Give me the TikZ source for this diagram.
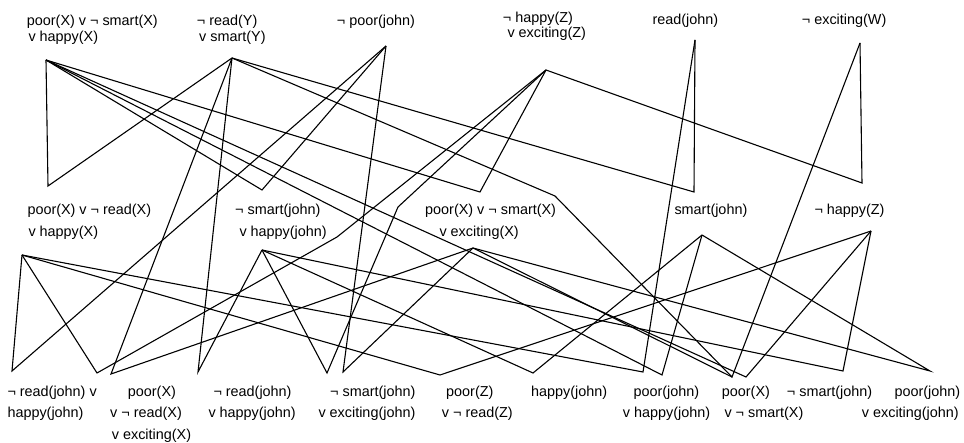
\documentclass[tikz,border=0pt]{standalone}
\usepackage{fontspec}
\setmainfont{Liberation Sans}
\begin{document}
\begin{tikzpicture}[x=1pt,y=-1pt,
  lbl/.style={anchor=base west,inner sep=0pt,font=\fontsize{14.4}{17}\selectfont},
  edge/.style={line width=1.1pt,black}]
\useasboundingbox (0,0) rectangle (964,443);
% ---------- labels, top row
\node[lbl] (p1a) at (26.7,25.5) {poor(X) v ¬ smart(X)};
\node[lbl] (p1b) at (28.3,41.5) {v happy(X)};
\node[lbl] (p2a) at (196.7,25.5) {¬ read(Y)};
\node[lbl] (p2b) at (199,41.5) {v smart(Y)};
\node[lbl] (p3) at (336.7,25.5) {¬ poor(john)};
\node[lbl] (p4a) at (502.7,22.5) {¬ happy(Z)};
\node[lbl] (p4b) at (507.3,38) {v exciting(Z)};
\node[lbl] (p5) at (652.3,24.5) {read(john)};
\node[lbl] (p6) at (801.7,24.5) {¬ exciting(W)};
% ---------- labels, middle row
\node[lbl] (m1a) at (27.3,214.5) {poor(X) v ¬ read(X)};
\node[lbl] (m1b) at (28.3,237) {v happy(X)};
\node[lbl] (m2a) at (235,214.5) {¬ smart(john)};
\node[lbl] (m2b) at (239.3,237) {v happy(john)};
\node[lbl] (m3a) at (425,214.5) {poor(X) v ¬ smart(X)};
\node[lbl] (m3b) at (439.3,237) {v exciting(X)};
\node[lbl] (m4) at (674.3,214.5) {smart(john)};
\node[lbl] (m5) at (814.3,214.5) {¬ happy(Z)};
% ---------- labels, bottom row
\node[lbl] (b1a) at (7.3,397) {¬ read(john) v};
\node[lbl] (b1b) at (7.3,417.5) {happy(john)};
\node[lbl] (b2a) at (127.7,397) {poor(X)};
\node[lbl] (b2b) at (110,417.5) {v ¬ read(X)};
\node[lbl] (b2c) at (111.7,439) {v exciting(X)};
\node[lbl] (b3a) at (213.3,397) {¬ read(john)};
\node[lbl] (b3b) at (208.3,417.5) {v happy(john)};
\node[lbl] (b4a) at (330,397) {¬ smart(john)};
\node[lbl] (b4b) at (318.3,417.5) {v exciting(john)};
\node[lbl] (b5a) at (446,397) {poor(Z)};
\node[lbl] (b5b) at (441.7,417.5) {v ¬ read(Z)};
\node[lbl] (b6) at (531,397) {happy(john)};
\node[lbl] (b7a) at (633.3,397) {poor(john)};
\node[lbl] (b7b) at (622.7,417.5) {v happy(john)};
\node[lbl] (b8a) at (721.7,397) {poor(X)};
\node[lbl] (b8b) at (724.3,417.5) {v ¬ smart(X)};
\node[lbl] (b9) at (786.7,397) {¬ smart(john)};
\node[lbl] (b10a) at (894.3,397) {poor(john)};
\node[lbl] (b10b) at (861.7,417.5) {v exciting(john)};
% ---------- connection points
\coordinate (A1) at (46,60);   \coordinate (A2) at (232,58);
\coordinate (A3) at (386,46);  \coordinate (A4) at (546,70);
\coordinate (A5) at (695,40);  \coordinate (A6) at (860,43);
\coordinate (T1) at (48,186);  \coordinate (T2) at (262,190);
\coordinate (T3) at (480,192); \coordinate (T4) at (694,192);
\coordinate (T5) at (862,183);
\coordinate (D1) at (22,255);  \coordinate (D2) at (262,250);
\coordinate (D3) at (473,248); \coordinate (D4) at (702,235);
\coordinate (D5) at (871,231);
\coordinate (E1) at (12,371);  \coordinate (E2) at (97,373);
\coordinate (E3) at (111,374); \coordinate (E4) at (198,372);
\coordinate (E5) at (327,373); \coordinate (E6) at (343,372);
\coordinate (E7) at (440,375); \coordinate (E8) at (533,373);
\coordinate (E9) at (643,372); \coordinate (E10) at (662,375);
\coordinate (E11) at (732,377); \coordinate (E12) at (746,377);
\coordinate (E13) at (843,371); \coordinate (E14) at (930,371);
\coordinate (K1) at (337,237); \coordinate (K2) at (398,207);
\coordinate (K3) at (555,196);
% ---------- first level
\draw[edge] (A1) -- (T1) -- (A2);
\draw[edge] (A1) -- (T2) -- (A3);
\draw[edge] (A1) -- (T3) -- (A4);
\draw[edge] (A2) -- (T4) -- (A5);
\draw[edge] (A4) -- (T5) -- (A6);
% ---------- second level
\draw[edge] (D1) -- (E1) -- (A3);
\draw[edge] (D1) -- (E2) -- (K1) -- (A4);
\draw[edge] (D3) -- (E3) -- (A2);
\draw[edge] (D2) -- (E4) -- (A2);
\draw[edge] (D2) -- (E5) -- (K2) -- (A4);
\draw[edge] (D3) -- (E6) -- (A3);
\draw[edge] (D1) -- (E7) -- (D5);
\draw[edge] (D2) -- (E8) -- (D4);
\draw[edge] (D1) -- (E9) -- (A5);
\draw[edge] (D4) -- (E10) -- (A1);
\draw[edge] (A6) -- (E11) -- (K3) -- (A2);
\draw[edge] (D3) -- (E11);
\draw[edge] (D5) -- (E12) -- (A1);
\draw[edge] (D2) -- (E13) -- (D5);
\draw[edge] (D3) -- (E14) -- (D4);
\end{tikzpicture}
\end{document}
